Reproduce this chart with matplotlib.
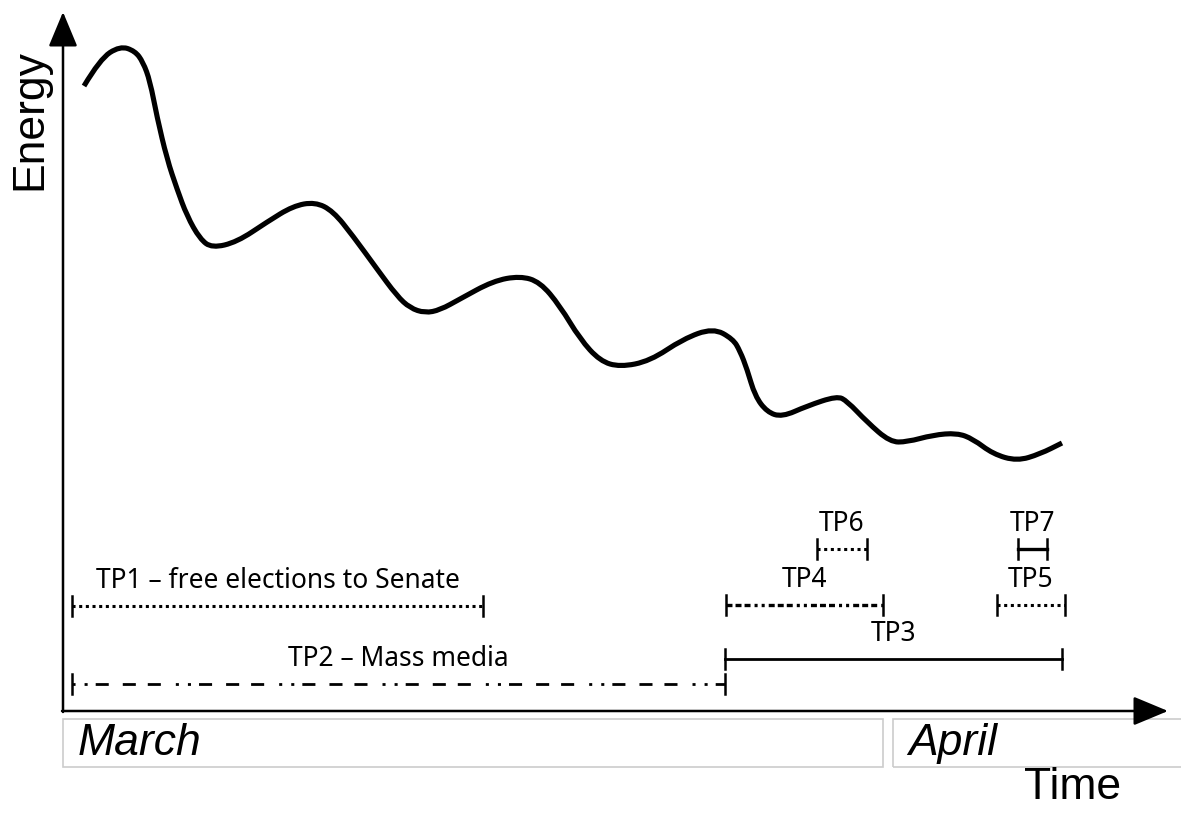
import matplotlib
matplotlib.use("Agg")
import matplotlib.pyplot as plt
from matplotlib.patches import Rectangle, PathPatch
from matplotlib.path import Path

plt.rcParams['lines.scale_dashes'] = False

# Energy curve (time units to the right, energy units upward)
curve_time = [21, 37, 57, 72, 80, 87, 94, 104, 114, 124, 137, 149, 174, 204, 230, 252, 270,
              290, 314, 334, 347, 362, 377, 397, 430, 457, 477, 497, 517, 537, 557, 587, 620,
              650, 670, 677, 684, 692, 704, 719, 744, 774, 784, 804, 827, 844, 870, 894, 910,
              930, 954, 977, 999]
curve_energy = [625, 652, 665, 660, 649, 630, 594, 552, 522, 495, 472, 463, 469, 489, 505,
                509, 500, 475, 442, 415, 403, 398, 401, 412, 430, 435, 429, 405, 372, 350, 344,
                350, 372, 383, 372, 360, 342, 315, 299, 294, 305, 315, 310, 289, 269, 269, 276,
                278, 272, 257, 250, 257, 268]

# Turning points: start, end, level, label
tp_names = ["TP1 \u2013 free elections to Senate", "TP2 \u2013 Mass media", "TP3", "TP4",
            "TP5", "TP6", "TP7"]
tp_start = [9, 9, 662, 663, 934, 754, 955]
tp_end = [420, 662, 999, 820, 1002, 804, 984]
tp_level = [105, 27, 52, 106, 106, 162, 162]

months = ["March", "April"]
month_start = [0, 830]
month_end = [820, 1130]

# dash patterns in points
tp_styles = [
    (0, (2.2, 2.6)),
    (0, (2.2, 6.5, 2.2, 5.8, 9.4, 10.1, 9.4, 8.6, 9.4, 10.8)),
    '-',
    (0, (4.3, 2.2, 4.3, 2.2, 4.3, 2.9, 2.2, 2.9, 2.2, 2.9)),
    (0, (2.2, 2.6)),
    (0, (2.2, 2.6)),
    '-',
]
tp_lw = [2.2, 2.0, 2.0, 2.4, 2.2, 2.2, 2.4]

fig = plt.figure(figsize=(11.81, 8.20), dpi=100)
ax = fig.add_axes([0, 0, 1, 1])
ax.set_xlim(-63, 1118)
ax.set_ylim(-108, 712)
ax.axis('off')

# axes with arrows
arrow = dict(arrowstyle='-|>,head_length=0.6,head_width=0.25', lw=1.8, color='black',
             mutation_scale=36, shrinkA=0, shrinkB=0)
ax.annotate('', xy=(0, 699), xytext=(0, -1), arrowprops=arrow)
ax.annotate('', xy=(1105, 0), xytext=(-1, 0), arrowprops=arrow)

# smooth drawing of the curve: read points used as quadratic bezier controls
pts = list(zip(curve_time, curve_energy))
verts = [pts[0]]
codes = [Path.MOVETO]
for i in range(1, len(pts) - 1):
    mid = ((pts[i][0] + pts[i + 1][0]) / 2, (pts[i][1] + pts[i + 1][1]) / 2)
    verts += [pts[i], mid]
    codes += [Path.CURVE3, Path.CURVE3]
verts.append(pts[-1])
codes.append(Path.LINETO)
ax.add_patch(PathPatch(Path(verts, codes), fill=False, edgecolor='black', lw=3.7,
                       capstyle='butt', joinstyle='round'))

label_font = ['Noto Sans', 'DejaVu Sans']
for name, s, e, lev, ls, lw in zip(tp_names, tp_start, tp_end, tp_level, tp_styles, tp_lw):
    ax.plot([s, e], [lev, lev], color='black', lw=lw, linestyle=ls, dash_capstyle='butt')
    for xe in (s, e):
        ax.plot([xe, xe], [lev - 10, lev + 10], color='black', lw=1.8)
    ax.text((s + e) / 2, lev + 12, name, ha='center', va='bottom', fontsize=19,
            family=label_font)

narrow = ['Liberation Sans Narrow', 'Liberation Sans', 'DejaVu Sans']
for name, s, e in zip(months, month_start, month_end):
    ax.add_patch(Rectangle((s, -56), e - s, 48, fill=False, edgecolor='#cccccc', lw=1.2,
                           clip_on=False))
    ax.text(s + 15, -32, name, ha='left', va='center', fontsize=32, style='italic',
            family=narrow)

ax.text(1010, -76, "Time", ha='center', va='center', fontsize=32, family=narrow)
ax.text(-33, 592, "Energy", ha='center', va='center', rotation=90, fontsize=32, family=narrow)

fig.savefig("out.png", dpi=100)
